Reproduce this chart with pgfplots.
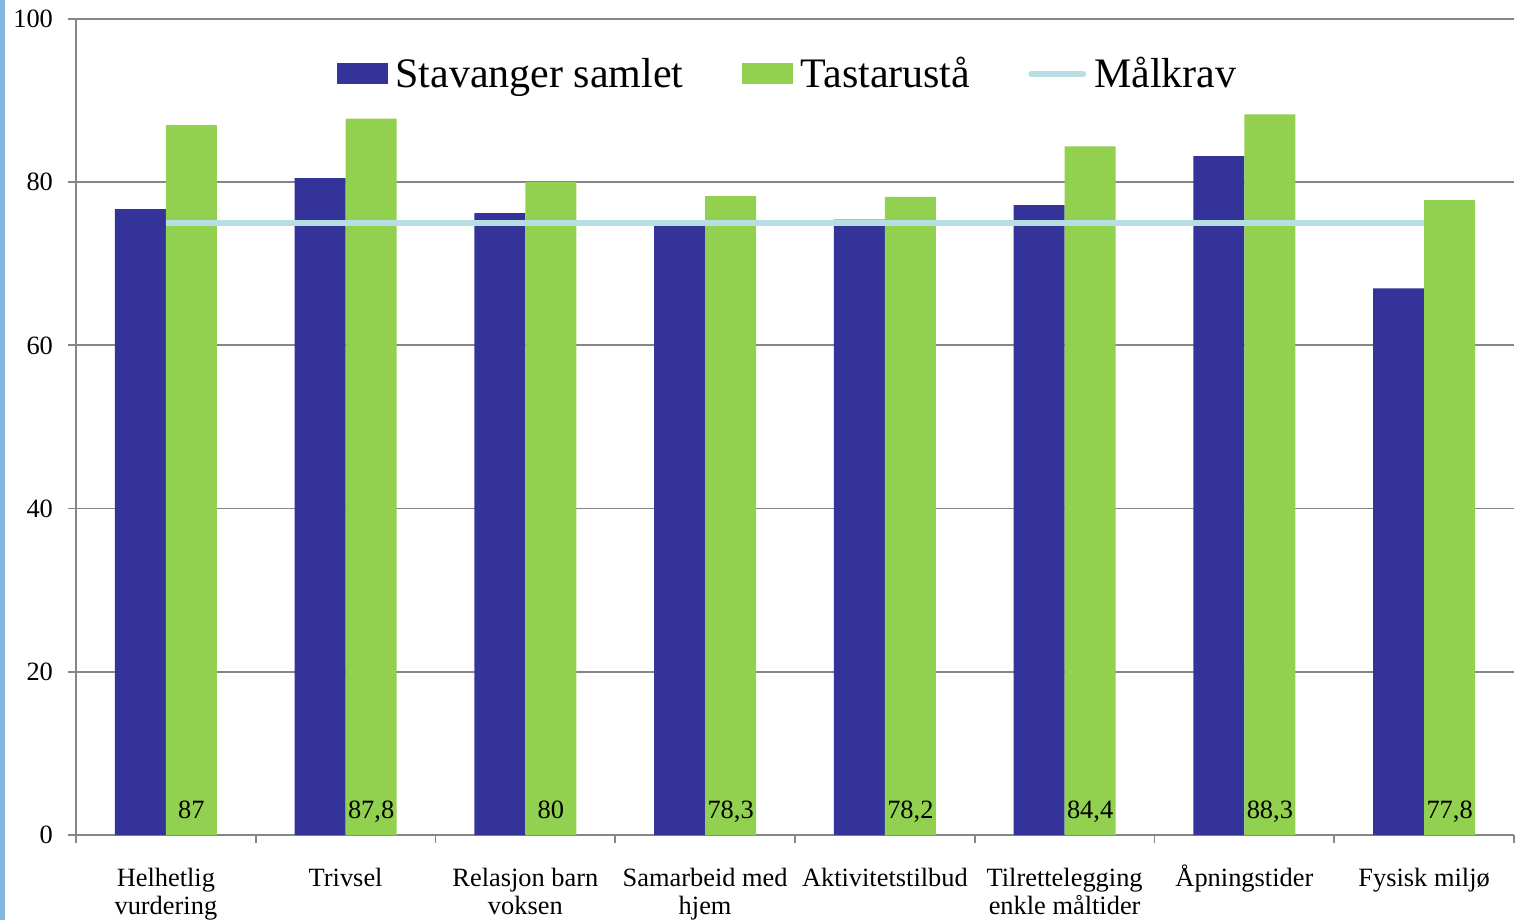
\documentclass[border=0pt]{standalone}
\usepackage{fontspec}
\setmainfont{Liberation Serif}
\usepackage{pgfplots}
\usepackage{pgfplotstable}
\pgfplotsset{compat=1.18}
\definecolor{stav}{HTML}{333399}
\definecolor{tast}{HTML}{92D050}
\definecolor{malk}{HTML}{B7DEE3}
\definecolor{axgray}{HTML}{868686}
\definecolor{strip}{HTML}{7FB8DC}
\newcommand\lh{\rule{0pt}{12pt}}
\pgfplotstableread{
x y
0 76.7
1 80.5
2 76.2
3 74.9
4 75.4
5 77.2
6 83.2
7 67.0
}\stavanger
\pgfplotstableread{
x y
0 87.0
1 87.8
2 80.0
3 78.3
4 78.2
5 84.4
6 88.3
7 77.8
}\tastarusta
\pgfplotstableread{
x y
0 75
1 75
2 75
3 75
4 75
5 75
6 75
7 75
}\malkrav
\begin{document}
\begin{tikzpicture}
\path[use as bounding box] (-38pt,-42.5pt) rectangle (721pt,417.5pt);
\clip (-38pt,-42.5pt) rectangle (721pt,417.5pt);
\fill[strip] (-38pt,-42.5pt) rectangle (-35.5pt,417.5pt);
\begin{axis}[
  scale only axis, width=719pt, height=408pt,
  xmin=-0.5, xmax=7.5, ymin=0, ymax=100,
  axis lines*=left,
  axis line style={-, draw=axgray, line width=0.9pt},
  ytick={0,20,...,100},
  ymajorgrids, grid style={draw=axgray, line width=0.9pt},
  xtick={-0.5,0.5,...,7.5},
  x tick label as interval,
  xticklabels={{\lh Helhetlig\\vurdering},{\lh Trivsel},{\lh Relasjon barn\\voksen},{\lh Samarbeid med\\hjem},{\lh Aktivitetstilbud},{\lh Tilrettelegging\\enkle måltider},{\lh Åpningstider},{\lh Fysisk miljø}},
  xticklabel style={align=center, anchor=north, yshift=-6pt, font=\fontsize{13.2}{14}\selectfont},
  yticklabel style={font=\fontsize{13.2}{14}\selectfont, xshift=-4pt},
  tick align=outside, major tick length=4pt,
  tick style={draw=axgray, line width=0.9pt},
  /pgf/number format/assume math mode=true,
  legend style={at={(0.4955,0.9326)}, anchor=center, draw=none, fill=none,
    legend columns=-1, font=\fontsize{21}{24}\selectfont,
    /tikz/every odd column/.style={column sep=2pt},
    /tikz/every even column/.style={column sep=27pt}},
]
\addplot[ybar, bar width=0.2837, bar shift=-0.1419, fill=stav, draw=none,
  legend image code/.code={\fill[stav] (0pt,-5.25pt) rectangle (25.5pt,5.25pt);}]
  table[x=x,y=y] {\stavanger};
\addlegendentry{Stavanger samlet}
\addplot[ybar, bar width=0.2837, bar shift=0.1419, fill=tast, draw=none,
  legend image code/.code={\fill[tast] (0pt,-5.25pt) rectangle (25.5pt,5.25pt);}]
  table[x=x,y=y] {\tastarusta};
\addlegendentry{Tastarustå}
\addplot[sharp plot, no marks, malk, line width=3pt,
  legend image code/.code={\draw[malk, line width=3pt, line cap=round] (0pt,0pt) -- (26pt,0pt);}]
  table[x=x,y=y] {\malkrav};
\addlegendentry{Målkrav}
\addplot[only marks, mark=none, forget plot,
  point meta=explicit,
  nodes near coords={\pgfmathprintnumber[use comma,assume math mode=true]{\pgfplotspointmeta}},
  every node near coord/.append style={anchor=base, yshift=8.5pt, font=\fontsize{13.2}{14}\selectfont, inner sep=0pt}]
  table[x expr=\thisrow{x}+0.1419, y expr=0, meta=y] {\tastarusta};
\end{axis}
\end{tikzpicture}
\end{document}
